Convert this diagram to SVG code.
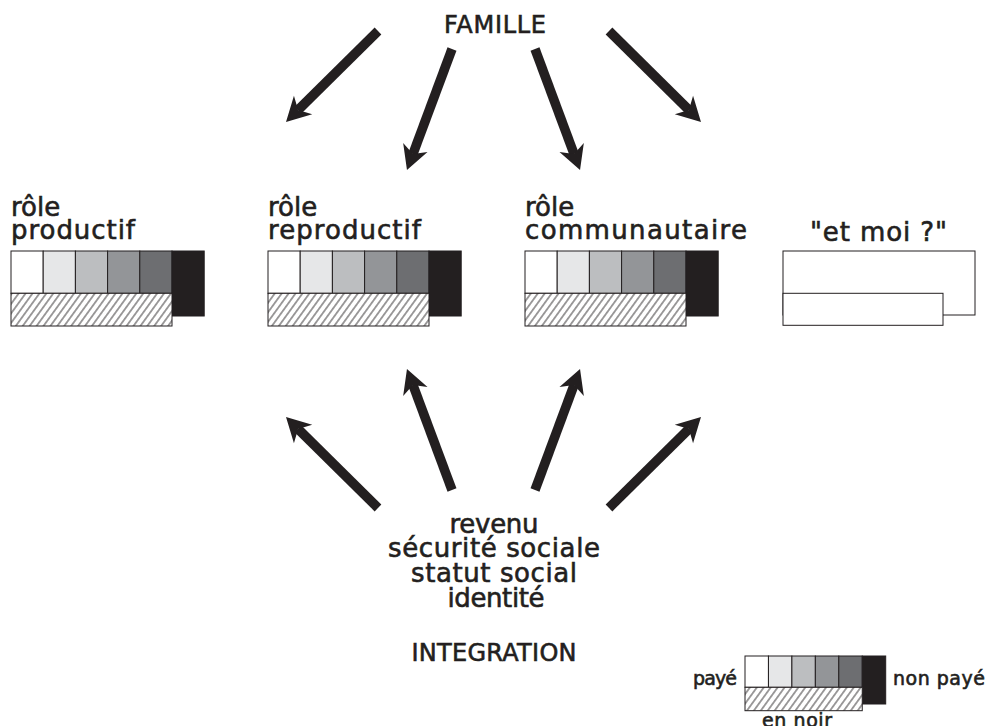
<svg xmlns="http://www.w3.org/2000/svg" width="987" height="726" viewBox="0 0 987 726">
<defs>
<style>
text{font-family:"DejaVu Sans","Liberation Sans",sans-serif;fill:#231f20;stroke:#231f20;stroke-width:0.6}
.lbl{font-size:26px}
.cap{font-size:24px}
.leg{font-size:19px}
.c{stroke:#231f20;stroke-width:1}
.w{fill:#ffffff}
.g1{fill:#e6e7e8}
.g2{fill:#bcbec0}
.g3{fill:#939598}
.g4{fill:#6d6e71}
.k{fill:#231f20}
.h{fill:url(#hatch)}
.arr{fill:none;stroke:#231f20;stroke-width:9.5;stroke-linecap:butt;marker-end:url(#ah)}
</style>
<pattern id="hatch" width="5.6" height="10" patternUnits="userSpaceOnUse" patternTransform="rotate(36)">
<rect width="5.6" height="10" fill="#ffffff"/>
<line x1="2.8" y1="0" x2="2.8" y2="10" stroke="#231f20" stroke-width="0.9"/>
</pattern>
<marker id="ah" markerUnits="userSpaceOnUse" viewBox="-8 -14 26 28" refX="0" refY="0" markerWidth="26" markerHeight="28" orient="auto">
<path d="M17,0 L-7,-13 L0,0 L-7,13 Z" fill="#231f20"/>
</marker>
</defs>
<rect width="987" height="726" fill="#ffffff"/>

<g id="famille"><text class="cap" x="495" y="33" text-anchor="middle" textLength="102">FAMILLE</text></g>

<g id="role-productif">
<text class="lbl" x="11" y="216">rôle</text>
<text class="lbl" x="11" y="239" textLength="124">productif</text>
<rect class="c w" x="11" y="251" width="32.2" height="42.3"/>
<rect class="c g1" x="43.2" y="251" width="32.2" height="42.3"/>
<rect class="c g2" x="75.4" y="251" width="32.2" height="42.3"/>
<rect class="c g3" x="107.6" y="251" width="32.2" height="42.3"/>
<rect class="c g4" x="139.8" y="251" width="32.2" height="42.3"/>
<rect class="c k" x="172" y="251" width="32.2" height="65"/>
<rect class="c h" x="11" y="293.3" width="161" height="32.7"/>
</g>

<g id="role-reproductif">
<text class="lbl" x="268" y="216">rôle</text>
<text class="lbl" x="268" y="239" textLength="153">reproductif</text>
<rect class="c w" x="268" y="251" width="32.2" height="42.3"/>
<rect class="c g1" x="300.2" y="251" width="32.2" height="42.3"/>
<rect class="c g2" x="332.4" y="251" width="32.2" height="42.3"/>
<rect class="c g3" x="364.6" y="251" width="32.2" height="42.3"/>
<rect class="c g4" x="396.8" y="251" width="32.2" height="42.3"/>
<rect class="c k" x="429" y="251" width="32.2" height="65"/>
<rect class="c h" x="268" y="293.3" width="161" height="32.7"/>
</g>

<g id="role-communautaire">
<text class="lbl" x="525" y="216">rôle</text>
<text class="lbl" x="525" y="239" textLength="222">communautaire</text>
<rect class="c w" x="525" y="251" width="32.2" height="42.3"/>
<rect class="c g1" x="557.2" y="251" width="32.2" height="42.3"/>
<rect class="c g2" x="589.4" y="251" width="32.2" height="42.3"/>
<rect class="c g3" x="621.6" y="251" width="32.2" height="42.3"/>
<rect class="c g4" x="653.8" y="251" width="32.2" height="42.3"/>
<rect class="c k" x="686" y="251" width="32.2" height="65"/>
<rect class="c h" x="525" y="293.3" width="161" height="32.7"/>
</g>

<g id="et-moi">
<text class="lbl" x="810" y="241" textLength="137">"et moi ?"</text>
<rect class="c w" x="783" y="251" width="192" height="64"/>
<rect class="c w" x="783" y="293.3" width="160" height="32"/>
</g>

<g id="integration">
<text class="lbl" x="494" y="533" text-anchor="middle" textLength="89">revenu</text>
<text class="lbl" x="494" y="557" text-anchor="middle" textLength="212">sécurité sociale</text>
<text class="lbl" x="494" y="582" text-anchor="middle" textLength="166">statut social</text>
<text class="lbl" x="496" y="607" text-anchor="middle" textLength="97">identité</text>
<text class="cap" x="494" y="661" text-anchor="middle" textLength="165">INTEGRATION</text>
</g>

<g id="legende">
<text class="leg" x="693" y="685" textLength="44">payé</text>
<text class="leg" x="893" y="685" textLength="92">non payé</text>
<text class="leg" x="762" y="727" textLength="70">en noir</text>
<rect class="c w" x="745" y="656" width="23.45" height="31.3"/>
<rect class="c g1" x="768.45" y="656" width="23.45" height="31.3"/>
<rect class="c g2" x="791.9" y="656" width="23.45" height="31.3"/>
<rect class="c g3" x="815.35" y="656" width="23.45" height="31.3"/>
<rect class="c g4" x="838.8" y="656" width="23.45" height="31.3"/>
<rect class="c k" x="862.25" y="656" width="23.45" height="48"/>
<rect class="c h" x="745" y="687.3" width="117.25" height="23.4"/>
</g>

<g id="connecteurs">
<path class="arr" d="M378,31 L298.1,110"/>
<path class="arr" d="M452,49 L412.9,154.1"/>
<path class="arr" d="M535,49 L574.1,154.1"/>
<path class="arr" d="M609,31 L688.9,110"/>
<path class="arr" d="M378,508 L298.1,429"/>
<path class="arr" d="M452,490 L412.9,384.9"/>
<path class="arr" d="M535,490 L574.1,384.9"/>
<path class="arr" d="M609,508 L688.9,429"/>
</g>
</svg>
